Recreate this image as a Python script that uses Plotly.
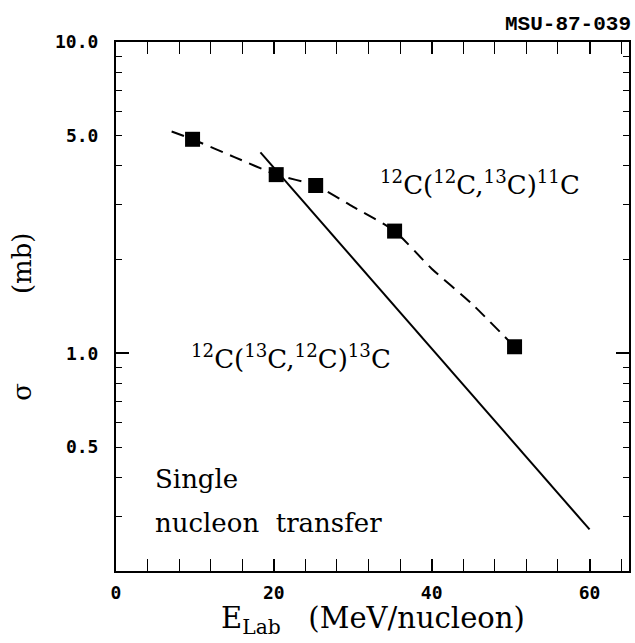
import plotly.graph_objects as go

# data
pt_x = [9.7, 20.3, 25.3, 35.3, 50.5]
pt_y = [4.87, 3.75, 3.46, 2.47, 1.05]

dash_x = [7.05, 9.7, 15, 20.3, 25.3, 30, 35.3, 40, 45, 50.5]
dash_y = [5.16, 4.87, 4.27, 3.75, 3.46, 2.96, 2.47, 1.87, 1.45, 1.05]

solid_x = [18.3, 60]
solid_y = [4.42, 0.272]

ytick_vals = [0.2, 0.3, 0.4, 0.5, 0.6, 0.7, 0.8, 0.9, 1, 2, 3, 4, 5, 6, 7, 8, 9, 10]
ytick_text = ["", "", "", "0.5", "", "", "", "", "1.0", "", "", "", "5.0", "", "", "", "", "10.0"]
xtick_vals = [0, 20, 40, 60]
xtick_text = ["0", "20", "40", "60"]

serif = "DejaVu Serif"
mono = "DejaVu Sans Mono"

fig = go.Figure()
fig.add_trace(go.Scatter(x=dash_x, y=dash_y, mode="lines",
                         line=dict(color="black", width=2, dash="13px,8px", shape="spline", smoothing=0.6),
                         hoverinfo="skip"))
fig.add_trace(go.Scatter(x=solid_x, y=solid_y, mode="lines",
                         line=dict(color="black", width=2), hoverinfo="skip"))
fig.add_trace(go.Scatter(x=pt_x, y=pt_y, mode="markers",
                         marker=dict(symbol="square", size=15, color="black"),
                         hoverinfo="skip"))
fig.add_trace(go.Scatter(x=[None], y=[None], yaxis="y2", showlegend=False, hoverinfo="skip"))

yr = [-0.699, 1.0]
fig.update_layout(
    width=635, height=643,
    margin=dict(l=116, r=4, t=42, b=72),
    paper_bgcolor="white", plot_bgcolor="white",
    showlegend=False,
    xaxis=dict(range=[0, 65], tickvals=xtick_vals, ticktext=xtick_text, ticks="inside", ticklen=12,
               tickwidth=1.5, tickcolor="black", mirror="allticks", showline=True, linewidth=2,
               linecolor="black", showgrid=False, zeroline=False, ticklabelstandoff=4,
               minor=dict(dtick=4, tick0=0, ticks="inside", ticklen=6, tickwidth=1.2,
                          tickcolor="black", showgrid=False),
               tickfont=dict(family=mono, size=18, color="black", weight="bold")),
    yaxis=dict(type="log", range=yr, tickvals=ytick_vals, ticktext=ytick_text, ticks="inside", ticklen=6,
               tickwidth=1.2, tickcolor="black", mirror="allticks", showline=True, linewidth=2,
               linecolor="black", showgrid=False, zeroline=False, ticklabelstandoff=12,
               tickfont=dict(family=mono, size=18, color="black", weight="bold")),
    yaxis2=dict(type="log", range=yr, overlaying="y", side="left", tickvals=[1, 10], ticks="inside",
                ticklen=13, tickwidth=1.5, tickcolor="black", mirror="ticks", showticklabels=False,
                showgrid=False, zeroline=False, showline=False),
)

def ann(**kw):
    base = dict(showarrow=False, font=dict(family=serif, size=26, color="black"))
    base.update(kw)
    fig.add_annotation(**base)

ann(x=33.25, y=0.547, xref="x", yref="y", xanchor="left", yanchor="middle",
    text="<sup>12</sup>C(<sup>12</sup>C,<sup>13</sup>C)<sup>11</sup>C")
ann(x=9.2, y=-0.012, xref="x", yref="y", xanchor="left", yanchor="middle",
    text="<sup>12</sup>C(<sup>13</sup>C,<sup>12</sup>C)<sup>13</sup>C")
ann(x=4.66, y=-0.405, xref="x", yref="y", xanchor="left", yanchor="middle", text="Single")
ann(x=4.66, y=-0.545, xref="x", yref="y", xanchor="left", yanchor="middle",
    text="nucleon&nbsp;&nbsp;transfer")
# axis titles
ann(x=0.5, y=0, xref="paper", yref="paper", xanchor="center", yanchor="bottom", yshift=-70,
    text="E<sub>Lab</sub>&nbsp;&nbsp;&nbsp;(MeV/nucleon)", font=dict(family=serif, size=29, color="black"))
ann(x=0, y=0.339, xref="paper", yref="paper", xanchor="center", yanchor="middle", xshift=-94,
    textangle=-90, text="σ", font=dict(family=serif, size=26, color="black"))
ann(x=0, y=0.582, xref="paper", yref="paper", xanchor="center", yanchor="middle", xshift=-94,
    textangle=-90, text="(mb)", font=dict(family=serif, size=26, color="black"))
# figure id
ann(x=1, y=1, xref="paper", yref="paper", xanchor="right", yanchor="middle", xshift=4, yshift=18,
    text="<b>MSU-87-039</b>", font=dict(family="Liberation Mono", size=21, color="black"))

fig.write_html("out.html")
